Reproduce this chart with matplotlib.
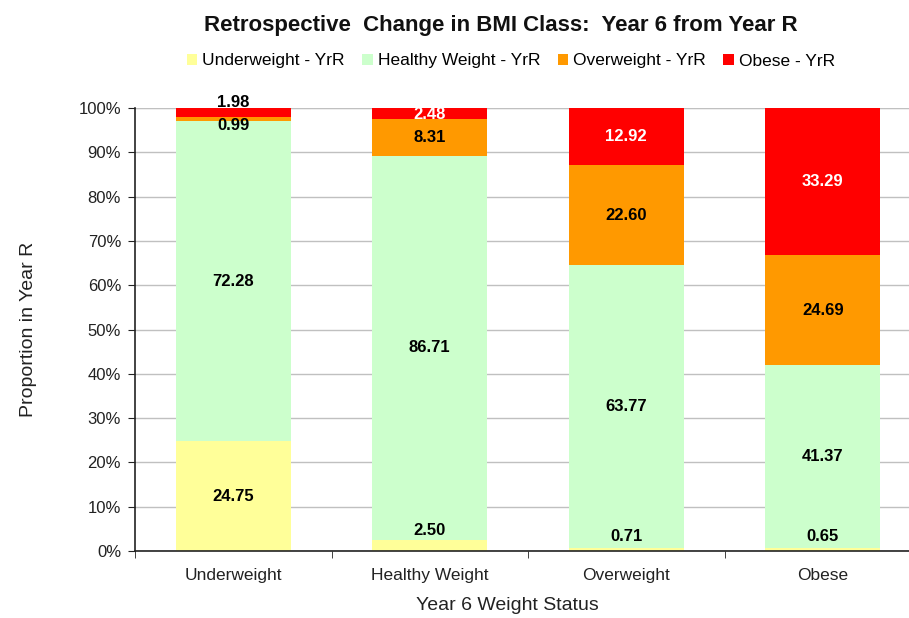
import numpy as np
import matplotlib
matplotlib.use('Agg')
import matplotlib.pyplot as plt
from matplotlib.ticker import FuncFormatter

plt.rcParams['font.family'] = ['Liberation Sans', 'DejaVu Sans']

# year 6 weight status groups
groups = ['Underweight', 'Healthy Weight', 'Overweight', 'Obese']
series = ['Underweight - YrR', 'Healthy Weight - YrR', 'Overweight - YrR', 'Obese - YrR']
underweight_r = [24.75, 2.50, 0.71, 0.65]
healthy_r = [72.28, 86.71, 63.77, 41.37]
overweight_r = [0.99, 8.31, 22.60, 24.69]
obese_r = [1.98, 2.48, 12.92, 33.29]

colors = ['#FFFF99', '#CCFFCC', '#FF9900', '#FF0000']
label_colors = ['black', 'black', 'black', 'white']

# small segments: labels were nudged off the segment centre in the original
# keys are (series index, group index)
label_y = {(0, 1): 4.7, (0, 2): 3.2, (0, 3): 3.2,
           (2, 0): 96.0, (3, 0): 101.3, (3, 1): 98.6}
label_col_fix = {(3, 0): 'black'}

fig = plt.figure(figsize=(9.09, 6.18), dpi=100)
ax = fig.add_axes([135/909, 1 - 551/618, 786/909, 443/618])

x = np.arange(len(groups))
data = [underweight_r, healthy_r, overweight_r, obese_r]
bottom = np.zeros(len(groups))
handles = []
for si, vals in enumerate(data):
    vals = np.array(vals)
    b = ax.bar(x, vals, 0.585, bottom=bottom, color=colors[si], label=series[si], zorder=2)
    handles.append(b)
    for gi in range(len(groups)):
        y = label_y.get((si, gi), bottom[gi] + vals[gi] / 2)
        c = label_col_fix.get((si, gi), label_colors[si])
        ax.text(x[gi], y, '%.2f' % vals[gi], ha='center', va='center',
                fontsize=12, fontweight='bold', color=c, zorder=3, clip_on=False)
    bottom += vals

ax.set_xlim(-0.5, 3.5)
ax.set_ylim(0, 100)
ax.set_yticks(np.arange(0, 101, 10))
ax.yaxis.set_major_formatter(FuncFormatter(lambda v, p: '%d%%' % v))
ax.set_xticks(x)
ax.set_xticklabels(groups)
ax.set_xticks(np.arange(-0.5, 3.6, 1), minor=True)
ax.tick_params(axis='x', which='major', length=0, pad=12, labelsize=12.5, colors='#222222')
ax.tick_params(axis='x', which='minor', length=5, direction='out', color='#222222')
ax.tick_params(axis='y', length=5, direction='out', labelsize=12, colors='#222222', pad=5)
ax.grid(axis='y', color='#C0C0C0', linewidth=1, zorder=0)
ax.axhline(100, color='#A0A0A0', linewidth=1.5, zorder=1)

for s in ['top', 'right']:
    ax.spines[s].set_visible(False)
ax.spines['left'].set_color('#222222')
ax.spines['bottom'].set_color('#222222')
ax.spines['left'].set_linewidth(1.2)
ax.spines['bottom'].set_linewidth(1.2)

ax.set_ylabel('Proportion in Year R', fontsize=14, color='#222222', labelpad=30)
fig.text(507/909, 1 - 606/618, 'Year 6 Weight Status', ha='center', va='center',
         fontsize=14, color='#222222')

fig.text(501/909, 1 - 25/618, 'Retrospective  Change in BMI Class:  Year 6 from Year R',
         ha='center', va='center', fontsize=16, fontweight='bold', color='#111111')
fig.legend(handles=handles, labels=series, loc='center', bbox_to_anchor=(511/909, 1 - 61/618),
           ncol=4, frameon=False, fontsize=12.5, handlelength=0.6, handleheight=0.6,
           handletextpad=0.3, columnspacing=1.0)

fig.savefig('out.png', dpi=100)
